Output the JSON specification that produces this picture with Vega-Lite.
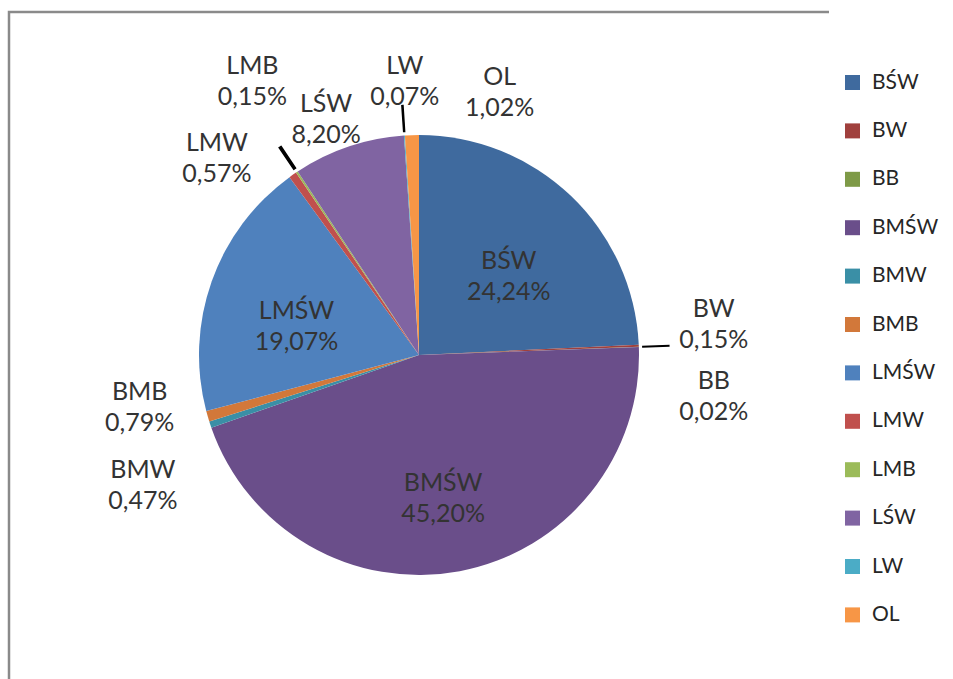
{
  "$schema": "https://vega.github.io/schema/vega-lite/v6.json",
  "width": 820,
  "height": 686,
  "autosize": "none",
  "padding": {"left": 9, "top": 12, "right": 124, "bottom": 0},
  "background": "white",
  "view": {"stroke": "#8a8a8a", "strokeWidth": 2.5, "strokeDash": [820, 1506, 686]},
  "config": {"font": "Lato", "text": {"font": "Lato", "fontSize": 25, "fill": "#333333"}},
  "data": {
    "values": [
      {"idx": 1, "cat": "BŚW", "pct": 24.24, "label": "BŚW\n24,24%"},
      {"idx": 2, "cat": "BW", "pct": 0.15, "label": "BW\n0,15%"},
      {"idx": 3, "cat": "BB", "pct": 0.02, "label": "BB\n0,02%"},
      {"idx": 4, "cat": "BMŚW", "pct": 45.20, "label": "BMŚW\n45,20%"},
      {"idx": 5, "cat": "BMW", "pct": 0.47, "label": "BMW\n0,47%"},
      {"idx": 6, "cat": "BMB", "pct": 0.79, "label": "BMB\n0,79%"},
      {"idx": 7, "cat": "LMŚW", "pct": 19.07, "label": "LMŚW\n19,07%"},
      {"idx": 8, "cat": "LMW", "pct": 0.57, "label": "LMW\n0,57%"},
      {"idx": 9, "cat": "LMB", "pct": 0.15, "label": "LMB\n0,15%"},
      {"idx": 10, "cat": "LŚW", "pct": 8.20, "label": "LŚW\n8,20%"},
      {"idx": 11, "cat": "LW", "pct": 0.07, "label": "LW\n0,07%"},
      {"idx": 12, "cat": "OL", "pct": 1.02, "label": "OL\n1,02%"}
    ]
  },
  "encoding": {
    "theta": {"field": "pct", "type": "quantitative", "stack": true},
    "order": {"field": "idx", "type": "quantitative"}
  },
  "layer": [
    {
      "mark": {"type": "arc", "outerRadius": 220},
      "encoding": {
        "color": {
          "field": "cat", "type": "nominal",
          "scale": {
            "domain": ["BŚW", "BW", "BB", "BMŚW", "BMW", "BMB", "LMŚW", "LMW", "LMB", "LŚW", "LW", "OL"],
            "range": ["#3F6A9E", "#A0403D", "#7E9A47", "#6A4E8A", "#3A8FA6", "#D2783A", "#4F81BD", "#C0504D", "#9BBB59", "#8064A2", "#4BACC6", "#F79646"]
          },
          "legend": {
            "title": null, "orient": "none", "legendX": 833, "legendY": 60,
            "direction": "vertical", "columns": 1,
            "symbolType": "square", "symbolSize": 225, "symbolStrokeWidth": 0,
            "labelFont": "Lato", "labelFontSize": 21, "labelColor": "#262626",
            "labelOffset": 9, "rowPadding": 26.4, "padding": 0
          }
        }
      }
    },
    {
      "mark": {"type": "arc", "innerRadius": 224, "outerRadius": 250, "fill": "#000000", "stroke": "#000000", "strokeWidth": 1.5},
      "encoding": {
        "opacity": {"condition": {"test": "indexof(['BB','LMB','LW'], datum.cat) >= 0", "value": 1}, "value": 0}
      }
    },
    {
      "mark": {"type": "text", "radius": 130, "lineBreak": "\n", "lineHeight": 31, "align": "center", "baseline": "middle"},
      "encoding": {"text": {"condition": {"test": "indexof(['BŚW','BMŚW','LMŚW'], datum.cat) >= 0", "field": "label"}, "value": ""}}
    },
    {
      "mark": {"type": "text", "radius": 265, "dx": -8, "lineBreak": "\n", "lineHeight": 31, "align": "center", "baseline": "middle"},
      "encoding": {"text": {"condition": {"test": "datum.cat === 'LŚW'", "field": "label"}, "value": ""}}
    },
    {
      "mark": {"type": "text", "radius": 290, "dx": 5, "lineBreak": "\n", "lineHeight": 31, "align": "center", "baseline": "middle"},
      "encoding": {"text": {"condition": {"test": "datum.cat === 'LW'", "field": "label"}, "value": ""}}
    },
    {
      "mark": {"type": "text", "radius": 290, "dx": 90, "dy": 12, "lineBreak": "\n", "lineHeight": 31, "align": "center", "baseline": "middle"},
      "encoding": {"text": {"condition": {"test": "datum.cat === 'OL'", "field": "label"}, "value": ""}}
    },
    {
      "mark": {"type": "text", "radius": 265, "dx": -50, "dy": 5, "lineBreak": "\n", "lineHeight": 31, "align": "center", "baseline": "middle"},
      "encoding": {"text": {"condition": {"test": "datum.cat === 'LMW'", "field": "label"}, "value": ""}}
    },
    {
      "mark": {"type": "text", "radius": 300, "dy": -40, "lineBreak": "\n", "lineHeight": 31, "align": "center", "baseline": "middle"},
      "encoding": {"text": {"condition": {"test": "datum.cat === 'LMB'", "field": "label"}, "value": ""}}
    },
    {
      "mark": {"type": "text", "radius": 280, "dx": 15, "dy": -34, "lineBreak": "\n", "lineHeight": 31, "align": "center", "baseline": "middle"},
      "encoding": {"text": {"condition": {"test": "datum.cat === 'BW'", "field": "label"}, "value": ""}}
    },
    {
      "mark": {"type": "text", "radius": 280, "dx": 15, "dy": 36, "lineBreak": "\n", "lineHeight": 31, "align": "center", "baseline": "middle"},
      "encoding": {"text": {"condition": {"test": "datum.cat === 'BB'", "field": "label"}, "value": ""}}
    },
    {
      "mark": {"type": "text", "radius": 270, "dx": -20, "dy": -38, "lineBreak": "\n", "lineHeight": 31, "align": "center", "baseline": "middle"},
      "encoding": {"text": {"condition": {"test": "datum.cat === 'BMB'", "field": "label"}, "value": ""}}
    },
    {
      "mark": {"type": "text", "radius": 270, "dx": -20, "dy": 30, "lineBreak": "\n", "lineHeight": 31, "align": "center", "baseline": "middle"},
      "encoding": {"text": {"condition": {"test": "datum.cat === 'BMW'", "field": "label"}, "value": ""}}
    }
  ]
}
